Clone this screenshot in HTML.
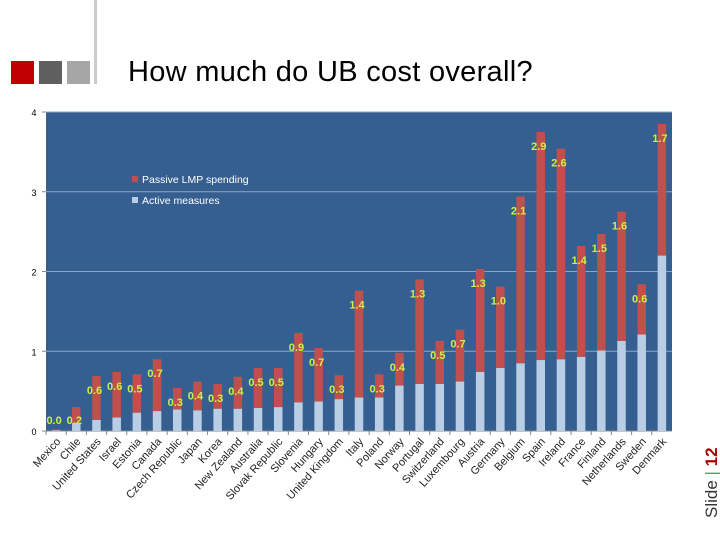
<!DOCTYPE html>
<html><head><meta charset="utf-8"><style>
body{margin:0;width:720px;height:540px;background:#fff;position:relative;overflow:hidden;font-family:"Liberation Sans",sans-serif}
.sq{position:absolute;top:61px;width:23px;height:23px}
</style></head><body>
<div class="sq" style="left:11px;background:#c00000"></div>
<div class="sq" style="left:39px;background:#5f5f5f"></div>
<div class="sq" style="left:67px;background:#a6a6a6"></div>
<div style="position:absolute;left:94px;top:0;width:3px;height:84px;background:#ccc"></div>
<div style="position:absolute;left:128px;top:56px;font-size:29px;color:#000;letter-spacing:0.3px">How much do UB cost overall?</div>
<div style="position:absolute;left:702px;top:518px;transform-origin:0 0;transform:rotate(-90deg);font-size:17px;color:#333;white-space:nowrap">Slide <span style="color:#4a6">|</span> <b style="color:#a00">12</b></div>
<svg id="chart" width="720" height="540" style="position:absolute;left:0;top:0"></svg>
<script>
const categories=["Mexico","Chile","United States","Israel","Estonia","Canada","Czech Republic","Japan","Korea","New Zealand","Australia","Slovak Republic","Slovenia","Hungary","United Kingdom","Italy","Poland","Norway","Portugal","Switzerland","Luxembourg","Austria","Germany","Belgium","Spain","Ireland","France","Finland","Netherlands","Sweden","Denmark"];
const active=[0.01,0.10,0.14,0.17,0.23,0.25,0.27,0.26,0.28,0.28,0.29,0.30,0.36,0.37,0.40,0.42,0.42,0.57,0.59,0.59,0.62,0.74,0.79,0.85,0.89,0.90,0.93,1.01,1.13,1.21,2.20];
const passive=[0.01,0.20,0.55,0.57,0.48,0.65,0.27,0.36,0.31,0.40,0.50,0.49,0.87,0.67,0.30,1.34,0.29,0.41,1.31,0.54,0.65,1.29,1.02,2.09,2.86,2.64,1.39,1.46,1.62,0.63,1.65];
const passiveLabels=["0.0","0.2","0.6","0.6","0.5","0.7","0.3","0.4","0.3","0.4","0.5","0.5","0.9","0.7","0.3","1.4","0.3","0.4","1.3","0.5","0.7","1.3","1.0","2.1","2.9","2.6","1.4","1.5","1.6","0.6","1.7"];
const yTicks=[0,1,2,3,4];
const NS="http://www.w3.org/2000/svg";
const svg=document.getElementById('chart');
const X0=46,X1=672,Y0=431,Y1=112;
const band=(X1-X0)/categories.length;
const xc=i=>X0+band*(i+0.5);
const y=v=>Y0-(Y0-Y1)*v/4;
function mk(t,a){const e=document.createElementNS(NS,t);for(const k in a)e.setAttribute(k,a[k]);svg.appendChild(e);return e;}
let e=mk('rect',{x:X0,y:Y1,width:X1-X0,height:Y0-Y1,fill:'#355f91'});


yTicks.forEach(t=>{
  if(t>0){const g=mk('line',{x1:X0,x2:X1,y1:y(t),y2:y(t),stroke:'#8ea6c4','stroke-width':1});
  
  }
  const tk=mk('line',{x1:X0-4,x2:X0,y1:y(t),y2:y(t),stroke:'#888'});
  
  
  const tx=mk('text',{x:34,y:y(t)+4,'font-size':9,'text-anchor':'middle',fill:'#000'});tx.textContent=t;
  
  
});
const ax=mk('line',{x1:X0,x2:X1,y1:Y0,y2:Y0,stroke:'#888'});


const bw=8.5;
categories.forEach((c,i)=>{
  const cx=xc(i);
  const a=mk('rect',{x:cx-bw/2,y:y(active[i]),width:bw,height:Y0-y(active[i]),fill:'#b9cde5'});
  
  
  const top=active[i]+passive[i];
  const p=mk('rect',{x:cx-bw/2,y:y(top),width:bw,height:y(active[i])-y(top),fill:'#c0504d'});
  
  
  const l=mk('text',{x:cx-2,y:Math.min(y(top)+18,424),'font-size':11,'font-weight':'bold','text-anchor':'middle',fill:'#c8f04a'});
  l.textContent=passiveLabels[i];
  
  
  const tk=mk('line',{x1:X0+band*i,x2:X0+band*i,y1:Y0,y2:Y0+4,stroke:'#888'});
  
  
  const xl=mk('text',{x:cx+5,y:442,'font-size':11,'text-anchor':'end',fill:'#222',transform:`rotate(-48 ${cx+5} 442)`});
  xl.textContent=c;
  
  
});
const lg=[["Passive LMP spending","#c0504d",183],["Active measures","#b9cde5",204]];
lg.forEach(d=>{
  const r=mk('rect',{x:132,y:d[2]-7,width:6,height:6,fill:d[1]});
  
  
  const t=mk('text',{x:142,y:d[2],'font-size':10.5,fill:'#fff'});t.textContent=d[0];
  
  
});
</script>
</body></html>
